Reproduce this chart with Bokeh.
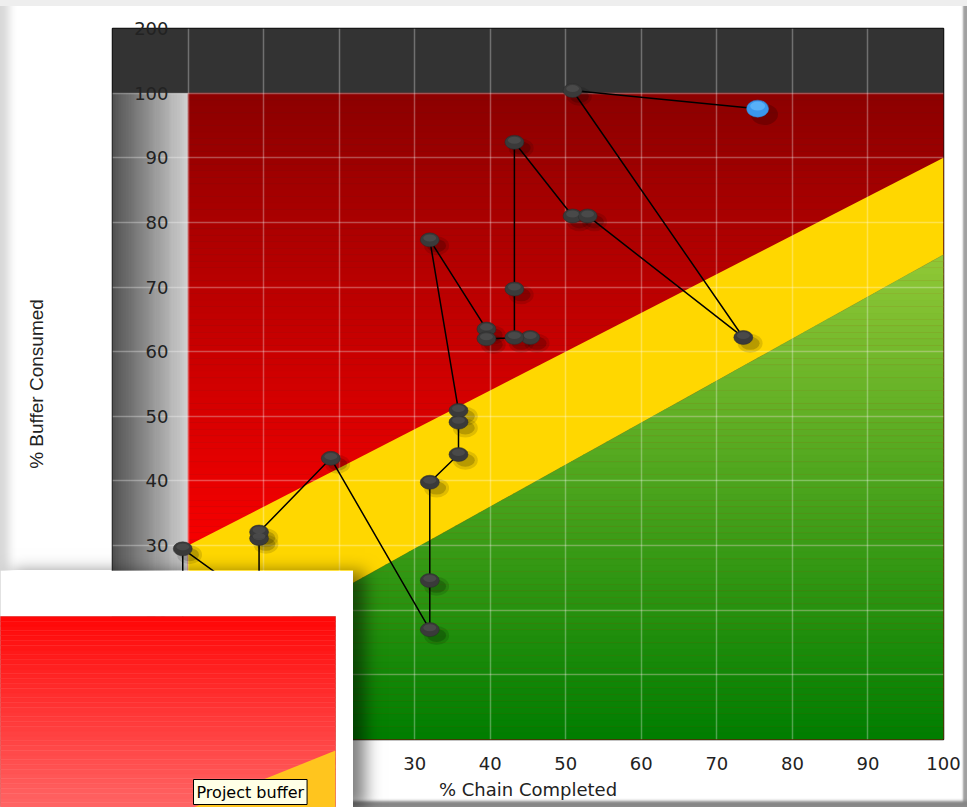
import numpy as np
from bokeh.plotting import figure
from bokeh.models import Range1d, FixedTicker, Label
from bokeh.embed import file_html
from bokeh.resources import INLINE

# ---------------- data ----------------
chain_completed = [-0.7, -0.7, 9.4, 9.4, 9.4, 18.9, 32.0, 32.0, 32.0, 35.8, 35.8, 35.8,
                   32.0, 39.5, 39.5, 45.3, 43.2, 43.2, 43.2, 50.9, 52.9, 73.5, 50.9, 75.4]
buffer_consumed = [12.0, 29.5, 21.0, 31.1, 32.1, 43.5, 17.0, 24.6, 39.8, 44.1, 49.1, 50.9,
                   77.3, 63.5, 62.0, 62.2, 62.2, 69.7, 92.4, 81.0, 81.0, 62.2, 100.4, 97.6]

# zone boundaries (% buffer consumed at 0 % and 100 % chain completed)
red_line = [30, 90]
green_line = [10, 75]

x_ticks = [0, 10, 20, 30, 40, 50, 60, 70, 80, 90, 100]
y_ticks = [0, 10, 20, 30, 40, 50, 60, 70, 80, 90, 100, 110]
y_tick_labels = ["0", "10", "20", "30", "40", "50", "60", "70", "80", "90", "100", "200"]

# inset (project buffer chart, partly visible)
inset_label = "Project buffer"


def lerp(c0, c1, t):
    return "#%02x%02x%02x" % tuple(int(round(a + (b - a) * t)) for a, b in zip(c0, c1))


FONT = "DejaVu Sans"

p = figure(width=967, height=807, output_backend="svg", toolbar_location=None,
           x_range=Range1d(-10, 100), y_range=Range1d(0, 110),
           min_border_left=112, min_border_right=24, min_border_top=28, min_border_bottom=68)
p.background_fill_color = "#333333"
p.border_fill_color = None
p.outline_line_color = "#111111"
p.outline_line_width = 1.5
p.styles = {"position": "absolute", "left": "0px", "top": "0px", "background-color": "white",
            "box-shadow": "inset 0 6px 0 0 #eeeeee, inset 15px 0 8px -6px #d8d8d8, "
                          "inset 0 -9px 3px -3px #858585, inset -5px 0 2px -1px #a0a0a0"}

# gray band (x < 0)
gx = np.linspace(-10, 0, 81)
gcol = [lerp((85, 85, 85), (215, 215, 215), i / 79) for i in range(80)]
r = p.quad(left=gx[:-1], right=gx[1:], bottom=0, top=100, fill_color=gcol, line_color=gcol, line_width=0.6)
r.level = "image"
# over 100 % band
r = p.quad(left=[-10], right=[100], bottom=[100], top=[110], fill_color="#333333", line_color=None)
r.level = "image"
# red zone gradient
ry = np.linspace(0, 100, 101)
rc = [lerp((255, 0, 0), (140, 0, 0), min(max(((a + b) / 2 - 25) / 75, 0), 1)) for a, b in zip(ry[:-1], ry[1:])]
r = p.quad(left=0, right=100, bottom=ry[:-1], top=ry[1:], fill_color=rc, line_color=rc, line_width=0.5)
r.level = "image"
# yellow zone
r = p.patch([0, 100, 100, 0], [red_line[0], red_line[1], green_line[1], green_line[0]],
            fill_color="#ffd700", line_color=None)
r.level = "image"
# green zone gradient (below the lower boundary)
slope = (green_line[1] - green_line[0]) / 100.0
gyy = np.linspace(0, green_line[1], int(green_line[1]) + 1)
xs, ys, gc = [], [], []
for a, b in zip(gyy[:-1], gyy[1:]):
    xa = min(max((a - green_line[0]) / slope, 0), 100)
    xb = min(max((b - green_line[0]) / slope, 0), 100)
    xs.append([xa, 100, 100, xb])
    ys.append([a, a, b, b])
    gc.append(lerp((0, 125, 0), (145, 200, 55), ((a + b) / 2) / green_line[1]))
r = p.patches(xs, ys, fill_color=gc, line_color=gc, line_width=0.5)
r.level = "image"

# grid
p.grid.grid_line_color = "white"
p.grid.grid_line_alpha = 0.3
p.grid.grid_line_width = 1.5
p.xgrid.ticker = FixedTicker(ticks=[-10] + x_ticks)
p.ygrid.ticker = FixedTicker(ticks=y_ticks)

# axes
p.xaxis.ticker = FixedTicker(ticks=x_ticks)
p.xaxis.axis_label = "% Chain Completed"
p.xaxis.axis_line_color = None
p.xaxis.major_tick_line_color = None
p.xaxis.minor_tick_line_color = None
p.xaxis.major_tick_out = 0
p.xaxis.major_tick_in = 0
p.xaxis.major_label_standoff = 17
p.xaxis.major_label_text_font = FONT
p.xaxis.major_label_text_font_size = "18px"
p.xaxis.major_label_text_color = "#222222"
p.xaxis.axis_label_text_font = FONT
p.xaxis.axis_label_text_font_size = "18px"
p.xaxis.axis_label_text_font_style = "normal"
p.xaxis.axis_label_text_color = "#222222"
p.xaxis.axis_label_standoff = 6

p.yaxis.ticker = FixedTicker(ticks=y_ticks)
p.yaxis.major_label_overrides = {v: s for v, s in zip(y_ticks, y_tick_labels)}
p.yaxis.axis_label = "% Buffer Consumed"
p.yaxis.axis_line_color = None
p.yaxis.major_tick_line_color = None
p.yaxis.minor_tick_line_color = None
p.yaxis.major_tick_out = 0
p.yaxis.major_tick_in = 0
p.yaxis.major_label_standoff = -56
p.yaxis.major_label_text_font = FONT
p.yaxis.major_label_text_font_size = "18px"
p.yaxis.major_label_text_color = "#222222"
p.yaxis.axis_label_text_font = "Liberation Sans"
p.yaxis.axis_label_text_font_size = "19px"
p.yaxis.axis_label_text_font_style = "normal"
p.yaxis.axis_label_text_color = "#222222"
p.yaxis.axis_label_standoff = 84

# points, shadows and path
cx = np.array(chain_completed)
cy = np.array(buffer_consumed)
p.ellipse(cx[:-1] + 0.9, cy[:-1] - 0.9, width=25, height=19, width_units="screen", height_units="screen",
          fill_color="black", fill_alpha=0.12, line_color=None)
p.ellipse(cx[:-1] + 0.9, cy[:-1] - 0.9, width=19, height=13, width_units="screen", height_units="screen",
          fill_color="black", fill_alpha=0.18, line_color=None)
p.ellipse(cx[-1:] + 0.9, cy[-1:] - 0.9, width=27, height=21, width_units="screen", height_units="screen",
          fill_color="black", fill_alpha=0.2, line_color=None)
p.line(chain_completed, buffer_consumed, line_color="black", line_width=1.5)
p.ellipse(cx[:-1], cy[:-1], width=19, height=14, width_units="screen", height_units="screen",
          fill_color="#3a3a3a", line_color="#2a2a2a", line_width=0.5)
p.ellipse(cx[:-1], cy[:-1] + 0.3, width=13, height=7, width_units="screen", height_units="screen",
          fill_color="#555555", fill_alpha=0.55, line_color=None)
p.ellipse(cx[-1:], cy[-1:], width=22, height=17, width_units="screen", height_units="screen",
          fill_color="#3a98ee", line_color="#2f80d0", line_width=0.5)
p.ellipse(cx[-1:], cy[-1:] + 0.4, width=15, height=9, width_units="screen", height_units="screen",
          fill_color="#6cc0ff", fill_alpha=0.6, line_color=None)

# ---------------- inset ----------------
q = figure(width=353, height=237, output_backend="svg", toolbar_location=None,
           x_range=Range1d(66.6, 100), y_range=Range1d(81.5, 110),
           min_border_left=0, min_border_right=18, min_border_top=46, min_border_bottom=0)
q.axis.visible = False
q.grid.visible = False
q.border_fill_color = "white"
q.outline_line_color = "#d04040"
q.outline_line_alpha = 0.7
qy = np.linspace(81.5, 110, 41)
qc = [lerp((255, 100, 100), (255, 8, 8), i / 39) for i in range(40)]
q.quad(left=66.6, right=100, bottom=qy[:-1], top=qy[1:], fill_color=qc, line_color=qc, line_width=0.5)
q.patch([66.6, 100, 100, 66.6],
        [red_line[0] + (red_line[1] - red_line[0]) * 0.666, red_line[1], 0, 0],
        fill_color="#ffc51e", line_color=None)
q.add_layout(Label(x=193, y=3, x_units="screen", y_units="screen", text=inset_label,
                   text_font=FONT, text_font_size="16px", text_color="black",
                   background_fill_color="#ffffe6", border_line_color="black", border_line_width=1,
                   padding=3))
q.styles = {"position": "absolute", "left": "0px", "top": "570px", "z-index": "10",
            "box-shadow": "12px 2px 16px rgba(0,0,0,0.5)"}

open("out.html", "w").write(file_html([p, q], INLINE))
